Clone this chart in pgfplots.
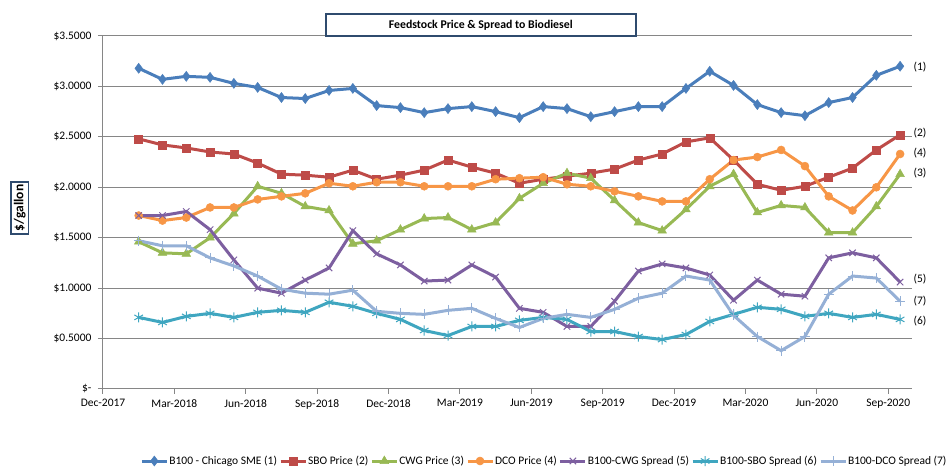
\documentclass[border=0pt]{standalone}
\usepackage{fontspec}
\setmainfont{Carlito}
\usepackage{pgfplots}
\pgfplotsset{compat=1.18}
\usepackage{pgfplotstable}
\definecolor{cB}{HTML}{4A7EBB}
\definecolor{cR}{HTML}{BE4B48}
\definecolor{cG}{HTML}{98B954}
\definecolor{cO}{HTML}{F79646}
\definecolor{cP}{HTML}{7D5FA0}
\definecolor{cT}{HTML}{3FA6C0}
\definecolor{cL}{HTML}{95B0D6}
\definecolor{gridgray}{HTML}{868686}
\definecolor{boxblue}{HTML}{2F4B6E}
\pgfplotstableread{
x s1 s2 s3 s4 s5 s6 s7
1.5 3.18 2.48 1.46 1.72 1.72 0.71 1.47
2.5 3.07 2.42 1.35 1.67 1.72 0.66 1.42
3.5 3.10 2.39 1.34 1.70 1.76 0.72 1.42
4.5 3.09 2.35 1.50 1.80 1.58 0.75 1.30
5.5 3.03 2.33 1.74 1.80 1.28 0.71 1.22
6.5 2.99 2.24 2.01 1.88 1.00 0.76 1.12
7.5 2.89 2.13 1.94 1.91 0.95 0.78 0.99
8.5 2.88 2.12 1.81 1.94 1.08 0.76 0.95
9.5 2.96 2.10 1.77 2.04 1.20 0.86 0.94
10.5 2.98 2.17 1.44 2.01 1.57 0.82 0.98
11.5 2.81 2.08 1.47 2.05 1.34 0.75 0.77
12.5 2.79 2.12 1.58 2.05 1.23 0.69 0.75
13.5 2.74 2.17 1.69 2.01 1.07 0.58 0.74
14.5 2.78 2.27 1.70 2.01 1.08 0.53 0.78
15.5 2.80 2.20 1.58 2.01 1.23 0.62 0.80
16.5 2.75 2.14 1.65 2.08 1.11 0.62 0.70
17.5 2.69 2.04 1.89 2.09 0.80 0.68 0.61
18.5 2.80 2.08 2.04 2.10 0.76 0.71 0.70
19.5 2.78 2.11 2.14 2.03 0.62 0.69 0.74
20.5 2.70 2.14 2.09 2.01 0.62 0.57 0.71
21.5 2.75 2.18 1.87 1.96 0.87 0.57 0.79
22.5 2.80 2.27 1.65 1.91 1.17 0.52 0.90
23.5 2.80 2.33 1.57 1.86 1.24 0.49 0.95
24.5 2.98 2.45 1.78 1.86 1.20 0.54 1.12
25.5 3.15 2.49 2.01 2.08 1.13 0.67 1.08
26.5 3.01 2.27 2.13 2.27 0.88 0.74 0.73
27.5 2.82 2.03 1.75 2.30 1.08 0.81 0.52
28.5 2.74 1.97 1.82 2.37 0.94 0.79 0.38
29.5 2.71 2.01 1.80 2.21 0.92 0.72 0.52
30.5 2.84 2.10 1.55 1.91 1.30 0.75 0.94
31.5 2.89 2.19 1.55 1.77 1.35 0.71 1.12
32.5 3.11 2.37 1.81 2.00 1.30 0.74 1.10
33.5 3.20 2.52 2.13 2.33 1.06 0.69 0.87
}\data
\begin{document}
\begin{tikzpicture}
\useasboundingbox (0,0) rectangle (951pt,476pt);
\begin{axis}[
  at={(103pt,87pt)}, anchor=south west,
  scale only axis, width=809pt, height=353pt,
  xmin=0, xmax=34, ymin=0, ymax=3.5,
  axis x line*=bottom, axis y line*=left,
  axis line style={draw=gridgray, line width=1pt, -},
  tick align=outside, major tick length=5pt,
  tick style={draw=gridgray, line width=1pt},
  xtick={0,3,...,33},
  xticklabels={Dec-2017,Mar-2018,Jun-2018,Sep-2018,Dec-2018,Mar-2019,Jun-2019,Sep-2019,Dec-2019,Mar-2020,Jun-2020,Sep-2020},
  ytick={0,0.5,...,3.5},
  yticklabels={\$-,\$0.5000,\$1.0000,\$1.5000,\$2.0000,\$2.5000,\$3.0000,\$3.5000},
  ymajorgrids, grid style={draw=gridgray, line width=1pt},
  ticklabel style={font=\fontsize{11.5pt}{13pt}\selectfont, text=black},
  xticklabel style={yshift=-2pt},
  yticklabel style={xshift=-3pt},
  clip=false,
  title={\textbf{Feedstock Price \& Spread to Biodiesel}},
  title style={at={(axis description cs:0.467,1.014)}, anchor=center, draw=boxblue, line width=1.5pt, fill=white,
    minimum width=310pt, minimum height=22pt, font=\fontsize{11.8pt}{13pt}\selectfont},
  ylabel={\textbf{\$/gallon}},
  ylabel style={at={(axis description cs:-0.103,0.513)}, anchor=center, draw=boxblue, line width=1.5pt,
    font=\fontsize{13.5pt}{15pt}\selectfont, inner sep=3pt},
  legend columns=7,
  legend style={at={(axis description cs:0.545,-0.204)}, anchor=center, draw=none,
    font=\fontsize{11.5pt}{13pt}\selectfont, nodes={inner xsep=1pt},
    /tikz/every even column/.append style={column sep=1pt}},
  legend image code/.code={\draw[mark repeat=2,mark phase=2] plot coordinates {(0pt,0pt)(12.5pt,0pt)(25pt,0pt)};},
  every axis plot/.append style={line width=3pt},
]
\addplot[cB, mark=diamond*, mark size=5pt, mark options={solid, fill=cB, line width=0.5pt}] table[x=x,y=s1]{\data};
\addlegendentry{B100 - Chicago SME (1)}
\addplot[cR, mark=square*, mark size=4pt, mark options={solid, fill=cR, line width=0.5pt}] table[x=x,y=s2]{\data};
\addlegendentry{SBO Price (2)}
\addplot[cG, mark=triangle*, mark size=5pt, mark options={solid, fill=cG, line width=0.5pt}] table[x=x,y=s3]{\data};
\addlegendentry{CWG Price (3)}
\addplot[cO, mark=*, mark size=4pt, mark options={solid, fill=cO, line width=0.5pt}] table[x=x,y=s4]{\data};
\addlegendentry{DCO Price (4)}
\addplot[cP, mark=x, mark size=4.5pt, mark options={solid, line width=1pt}] table[x=x,y=s5]{\data};
\addlegendentry{B100-CWG Spread (5)}
\addplot[cT, mark=asterisk, mark size=5pt, mark options={solid, line width=1pt}] table[x=x,y=s6]{\data};
\addlegendentry{B100-SBO Spread (6)}
\addplot[cL, mark=+, mark size=5pt, mark options={solid, line width=1pt}] table[x=x,y=s7]{\data};
\addlegendentry{B100-DCO Spread (7)}
\begin{scope}[every node/.style={anchor=west, font=\fontsize{11.5pt}{13pt}\selectfont, xshift=10pt}]
\node at (axis cs:33.5,3.195) {(1)};
\node at (axis cs:33.5,2.54) {(2)};
\node at (axis cs:33.5,2.34) {(4)};
\node at (axis cs:33.5,2.14) {(3)};
\node at (axis cs:33.5,1.09) {(5)};
\node at (axis cs:33.5,0.87) {(7)};
\node at (axis cs:33.5,0.67) {(6)};
\end{scope}
\end{axis}
\end{tikzpicture}
\end{document}
